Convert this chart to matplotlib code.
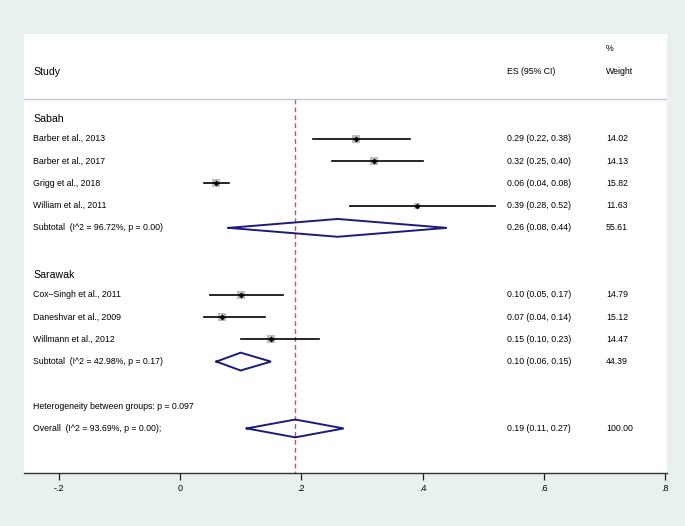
import matplotlib.pyplot as plt
import matplotlib.transforms as mtransforms

# study-level data (proportions, 95% CI, % weight)
groups = ["Sabah", "Sarawak"]
studies = [
    ["Barber et al., 2013", "Barber et al., 2017", "Grigg et al., 2018", "William et al., 2011"],
    ["Cox\u2013Singh et al., 2011", "Daneshvar et al., 2009", "Willmann et al., 2012"],
]
es = [[0.29, 0.32, 0.06, 0.39], [0.10, 0.07, 0.15]]
lo = [[0.22, 0.25, 0.04, 0.28], [0.05, 0.04, 0.10]]
hi = [[0.38, 0.40, 0.08, 0.52], [0.17, 0.14, 0.23]]
weights = [[14.02, 14.13, 15.82, 11.63], [14.79, 15.12, 14.47]]

# subgroup pooled estimates
sub_es = [0.26, 0.10]
sub_lo = [0.08, 0.06]
sub_hi = [0.44, 0.15]
sub_w = [55.61, 44.39]
sub_i2 = [96.72, 42.98]
sub_p = [0.00, 0.17]

# overall
overall = (0.19, 0.11, 0.27)
overall_i2 = 93.69
overall_p = 0.00
het_between_p = 0.097

ticks = [-0.2, 0, 0.2, 0.4, 0.6, 0.8]
tick_labels = ["-.2", "0", ".2", ".4", ".6", ".8"]

FONT = "Liberation Sans"
BG = "#e8f1f0"
NAVY = "#1b1b7e"
REF = "#a9606e"

plt.rcParams['font.family'] = [FONT, 'DejaVu Sans']

fig = plt.figure(figsize=(6.85, 5.26), dpi=100, facecolor=BG)
ax = fig.add_axes([24 / 685, 1 - 473 / 526, 643 / 685, 439 / 526])
ax.set_facecolor("white")
ax.set_xlim(-0.2572, 0.803)
ax.set_ylim(16, -3.70)

trans = mtransforms.blended_transform_factory(ax.transAxes, ax.transData)
x_lab, x_es, x_w = 0.014, 0.751, 0.905
fs = 6.3


def diamond(y, e, l, h, half=0.4):
    ax.plot([l, e, h, e, l], [y, y - half, y, y + half, y], color=NAVY, lw=1.4,
            solid_joinstyle='miter', zorder=3)


# headers
ax.text(x_lab, -2, "Study", transform=trans, ha='left', va='center', fontsize=7.6)
ax.text(x_es, -2, "ES (95% CI)", transform=trans, ha='left', va='center', fontsize=fs)
ax.text(x_w, -3.05, "%", transform=trans, ha='left', va='center', fontsize=fs)
ax.text(x_w, -2, "Weight", transform=trans, ha='left', va='center', fontsize=fs)
ax.axhline(-0.8, color="#c6c3dd", lw=1.0)

row = 0
for g, name in enumerate(groups):
    ax.text(x_lab, row + 0.1, name, transform=trans, ha='left', va='center', fontsize=7.6)
    row += 1
    for s, e, l, h, w in zip(studies[g], es[g], lo[g], hi[g], weights[g]):
        ax.plot(e, row, marker='s', color='#bdbdbd', markersize=1.45 * w ** 0.5,
                markeredgewidth=0, zorder=2)
        ax.plot([l, h], [row, row], color='black', lw=1.2, zorder=3)
        ax.plot(e, row, marker='D', color='black', markersize=3.0,
                markeredgewidth=0, zorder=4)
        ax.text(x_lab, row, s, transform=trans, ha='left', va='center', fontsize=fs)
        ax.text(x_es, row, f"{e:.2f} ({l:.2f}, {h:.2f})", transform=trans,
                ha='left', va='center', fontsize=fs)
        ax.text(x_w, row, f"{w:.2f}", transform=trans, ha='left', va='center', fontsize=fs)
        row += 1
    diamond(row, sub_es[g], sub_lo[g], sub_hi[g])
    ax.text(x_lab, row, f"Subtotal  (I^2 = {sub_i2[g]:.2f}%, p = {sub_p[g]:.2f})",
            transform=trans, ha='left', va='center', fontsize=fs)
    ax.text(x_es, row, f"{sub_es[g]:.2f} ({sub_lo[g]:.2f}, {sub_hi[g]:.2f})",
            transform=trans, ha='left', va='center', fontsize=fs)
    ax.text(x_w, row, f"{sub_w[g]:.2f}", transform=trans, ha='left', va='center', fontsize=fs)
    row += 2

ax.text(x_lab, row, f"Heterogeneity between groups: p = {het_between_p:.3f}",
        transform=trans, ha='left', va='center', fontsize=fs)
row += 1
diamond(row, *overall)
ax.text(x_lab, row, f"Overall  (I^2 = {overall_i2:.2f}%, p = {overall_p:.2f});",
        transform=trans, ha='left', va='center', fontsize=fs)
ax.text(x_es, row, f"{overall[0]:.2f} ({overall[1]:.2f}, {overall[2]:.2f})",
        transform=trans, ha='left', va='center', fontsize=fs)
ax.text(x_w, row, "100.00", transform=trans, ha='left', va='center', fontsize=fs)

# reference line at overall estimate
ax.plot([overall[0], overall[0]], [-0.8, 16], color=REF, lw=1.0,
        dashes=(3.5, 2.2), zorder=1)

for side in ['top', 'left', 'right']:
    ax.spines[side].set_visible(False)
ax.spines['bottom'].set_color('#333333')
ax.spines['bottom'].set_linewidth(1.0)
ax.set_yticks([])
ax.set_xticks(ticks)
ax.set_xticklabels(tick_labels)
ax.tick_params(axis='x', direction='out', length=5, width=0.9, color='#222222',
               labelsize=6.5, pad=3)

fig.savefig("out.png", dpi=100, facecolor=BG)
